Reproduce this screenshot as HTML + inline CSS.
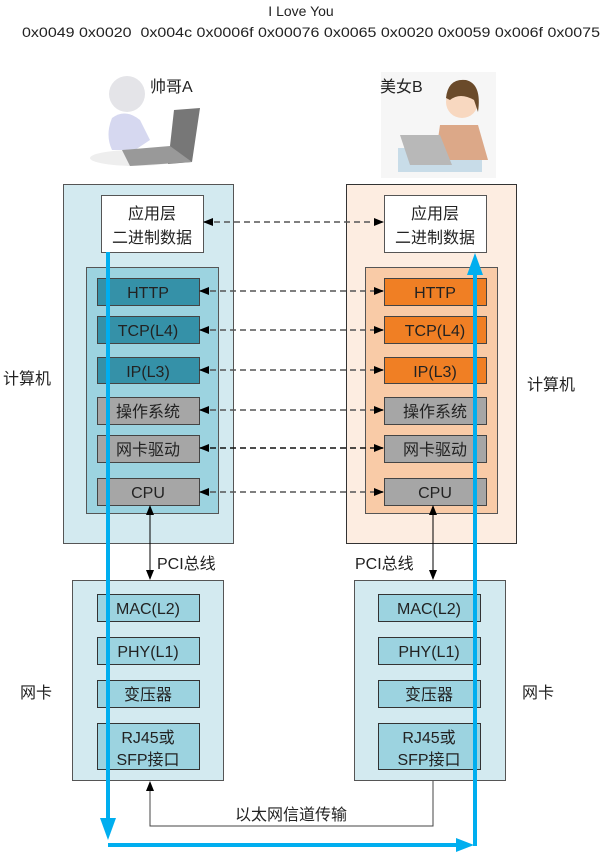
<!DOCTYPE html>
<html><head><meta charset="utf-8"><style>
html,body{margin:0;padding:0;background:#fff;}
svg{display:block;}
text{font-family:"Liberation Sans","Noto Sans CJK SC",sans-serif;fill:#222;}
</style></head><body>
<svg width="603" height="853" viewBox="0 0 603 853" xmlns="http://www.w3.org/2000/svg">
<defs>
<marker id="ah" markerWidth="10" markerHeight="8" refX="9" refY="4" orient="auto" markerUnits="userSpaceOnUse"><path d="M0,0 L10,4 L0,8 z" fill="#000"/></marker>
<marker id="ahs" markerWidth="10" markerHeight="8" refX="9" refY="4" orient="auto-start-reverse" markerUnits="userSpaceOnUse"><path d="M0,0 L10,4 L0,8 z" fill="#000"/></marker>
</defs>
<text x="301" y="16" font-size="14" text-anchor="middle">I Love You</text>
<text x="22" y="37" font-size="14" textLength="578" lengthAdjust="spacingAndGlyphs" xml:space="preserve">0x0049 0x0020  0x004c 0x0006f 0x00076 0x0065 0x0020 0x0059 0x006f 0x0075</text>

<!-- person A -->
<ellipse cx="135" cy="158" rx="45" ry="8" fill="#eee"/>
<circle cx="127" cy="94" r="18" fill="#e4e4e8"/>
<path d="M112,118 Q125,108 140,120 L150,140 L135,150 L112,150 Q105,135 112,118z" fill="#d6d8f0"/>
<path d="M174,110 L200,108 L192,162 L168,164z" fill="#777"/>
<path d="M122,150 L170,146 L192,162 L130,166z" fill="#999"/>
<text x="150" y="92" font-size="16">帅哥A</text>

<!-- person B -->
<rect x="381" y="72" width="115" height="106" fill="#f6f6f6"/>
<rect x="398" y="148" width="84" height="24" fill="#c8dce8"/>
<path d="M440,125 L478,125 L488,160 L435,160z" fill="#dca888"/>
<circle cx="462" cy="102" r="16" fill="#f8d8c0"/>
<path d="M446,98 Q448,78 466,80 Q482,84 478,112 L474,100 Q460,92 450,100z" fill="#6a4a2a"/>
<path d="M400,135 L440,135 L452,165 L410,165z" fill="#b8b8b8"/>
<text x="380" y="92" font-size="16">美女B</text>

<!-- left computer -->
<rect x="63.5" y="184.5" width="170" height="359" fill="#d3eaf0" stroke="#555"/>
<rect x="101.5" y="195.5" width="102" height="57" fill="#fff" stroke="#555"/>
<text x="152" y="219" font-size="16" text-anchor="middle">应用层</text>
<text x="152" y="243" font-size="16" text-anchor="middle">二进制数据</text>
<rect x="86.5" y="267.5" width="132" height="246" fill="#9cd3e0" stroke="#555"/>
<g stroke="#444">
<rect x="97.5" y="278.5" width="102" height="27" fill="#3591a8"/>
<rect x="97.5" y="316.5" width="102" height="27" fill="#3591a8"/>
<rect x="97.5" y="357.5" width="102" height="26" fill="#3591a8"/>
<rect x="97.5" y="397.5" width="102" height="27" fill="#a6a6a6"/>
<rect x="97.5" y="435.5" width="102" height="27" fill="#a6a6a6"/>
<rect x="97.5" y="478.5" width="102" height="27" fill="#a6a6a6"/>
</g>
<g font-size="16" text-anchor="middle">
<text x="148" y="298">HTTP</text><text x="148" y="336">TCP(L4)</text><text x="148" y="377">IP(L3)</text>
<text x="148" y="417">操作系统</text><text x="148" y="455">网卡驱动</text><text x="148" y="498">CPU</text>
</g>

<!-- right computer -->
<rect x="346.5" y="184.5" width="170" height="359" fill="#fdede1" stroke="#333"/>
<rect x="384.5" y="195.5" width="102" height="57" fill="#fff" stroke="#555"/>
<text x="435" y="219" font-size="16" text-anchor="middle">应用层</text>
<text x="435" y="243" font-size="16" text-anchor="middle">二进制数据</text>
<rect x="365.5" y="267.5" width="132" height="246" fill="#f9cba7" stroke="#555"/>
<g stroke="#444">
<rect x="384.5" y="278.5" width="102" height="27" fill="#f07f24"/>
<rect x="384.5" y="316.5" width="102" height="27" fill="#f07f24"/>
<rect x="384.5" y="357.5" width="102" height="26" fill="#f07f24"/>
<rect x="384.5" y="397.5" width="102" height="27" fill="#a6a6a6"/>
<rect x="384.5" y="435.5" width="102" height="27" fill="#a6a6a6"/>
<rect x="384.5" y="478.5" width="102" height="27" fill="#a6a6a6"/>
</g>
<g font-size="16" text-anchor="middle">
<text x="435" y="298">HTTP</text><text x="435" y="336">TCP(L4)</text><text x="435" y="377">IP(L3)</text>
<text x="435" y="417">操作系统</text><text x="435" y="455">网卡驱动</text><text x="435" y="498">CPU</text>
</g>

<!-- dashed links -->
<g stroke="#555" stroke-width="1.5" stroke-dasharray="6,4" marker-start="url(#ahs)" marker-end="url(#ah)">
<line x1="204" y1="222" x2="383" y2="222"/>
<line x1="200" y1="291" x2="383" y2="291"/>
<line x1="200" y1="330" x2="383" y2="330"/>
<line x1="200" y1="370" x2="383" y2="370"/>
<line x1="200" y1="410" x2="383" y2="410"/>
<line x1="200" y1="448" x2="383" y2="448" stroke="#111"/>
<line x1="200" y1="492" x2="383" y2="492"/>
</g>

<text x="3" y="384" font-size="16">计算机</text>
<text x="527" y="390" font-size="16">计算机</text>

<!-- PCI -->
<line x1="150" y1="506" x2="150" y2="579" stroke="#000" marker-start="url(#ahs)" marker-end="url(#ah)"/>
<line x1="433" y1="506" x2="433" y2="579" stroke="#000" marker-start="url(#ahs)" marker-end="url(#ah)"/>
<text x="157" y="569" font-size="16">PCI总线</text>
<text x="355" y="569" font-size="16">PCI总线</text>

<!-- NICs -->
<rect x="72.5" y="580.5" width="151" height="200" fill="#d3eaf0" stroke="#555"/>
<rect x="354.5" y="580.5" width="151" height="200" fill="#d3eaf0" stroke="#555"/>
<g stroke="#333" fill="#9cd3e0">
<rect x="97.5" y="594.5" width="102" height="27"/><rect x="97.5" y="637.5" width="102" height="27"/>
<rect x="97.5" y="680.5" width="102" height="27"/><rect x="97.5" y="723.5" width="102" height="46"/>
<rect x="378.5" y="594.5" width="102" height="27"/><rect x="378.5" y="637.5" width="102" height="27"/>
<rect x="378.5" y="680.5" width="102" height="27"/><rect x="378.5" y="723.5" width="102" height="46"/>
</g>
<g font-size="16" text-anchor="middle">
<text x="148" y="614">MAC(L2)</text><text x="148" y="657">PHY(L1)</text><text x="148" y="700">变压器</text>
<text x="148" y="743">RJ45或</text><text x="148" y="765">SFP接口</text>
<text x="429" y="614">MAC(L2)</text><text x="429" y="657">PHY(L1)</text><text x="429" y="700">变压器</text>
<text x="429" y="743">RJ45或</text><text x="429" y="765">SFP接口</text>
</g>
<text x="20" y="698" font-size="16">网卡</text>
<text x="522" y="698" font-size="16">网卡</text>

<!-- ethernet -->
<polyline points="433,781 433,826 150,826 150,782" fill="none" stroke="#444" marker-end="url(#ah)"/>
<text x="291" y="820" font-size="16" text-anchor="middle">以太网信道传输</text>

<!-- blue path -->
<g fill="none" stroke="#00aeef" stroke-width="4">
<polyline points="108,252 108,822"/>
<polyline points="108,845 458,845"/>
<polyline points="475,846 475,272"/>
</g>
<g fill="#00aeef">
<path d="M100,818 L116,818 L108,840z"/>
<path d="M456,838 L456,852 L474,845z"/>
<path d="M467,275 L483,275 L475,253z"/>
</g>
</svg>
</body></html>
